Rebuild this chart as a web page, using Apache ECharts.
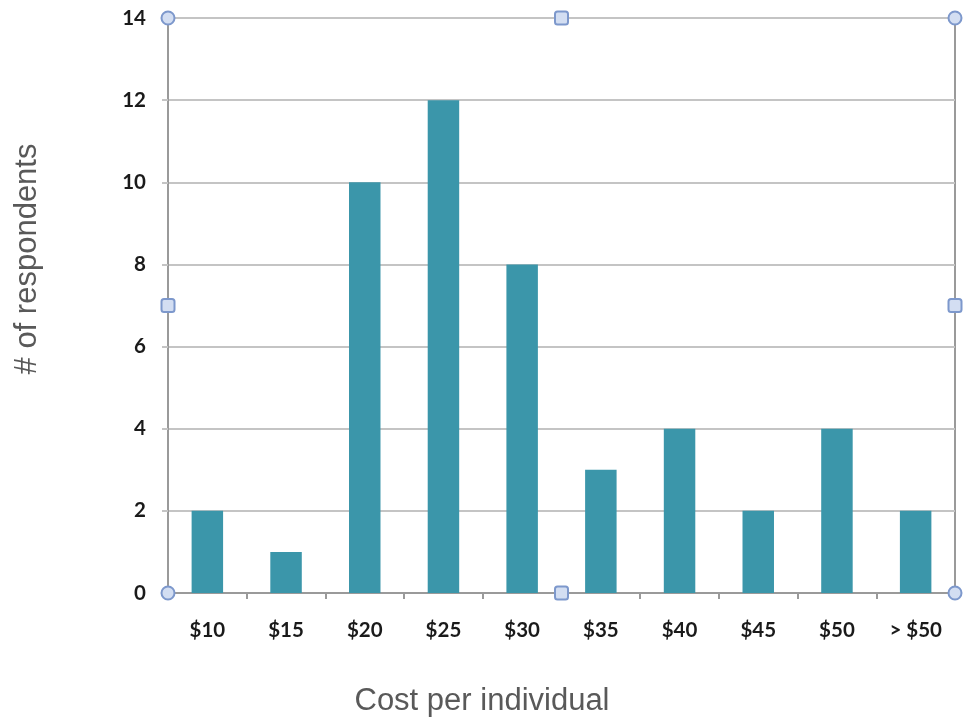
<!DOCTYPE html>
<html>
<head>
<meta charset="utf-8">
<script src="https://cdn.jsdelivr.net/npm/echarts@6/dist/echarts.min.js"></script>
<style>
  html, body { margin: 0; padding: 0; background: #ffffff; }
  #chart { width: 971px; height: 719px; }
</style>
</head>
<body>
<div id="chart"></div>
<script>
// Survey: how much respondents would pay per individual
const categories = ['$10', '$15', '$20', '$25', '$30', '$35', '$40', '$45', '$50', '> $50'];
const respondents = [2, 1, 10, 12, 8, 3, 4, 2, 4, 2];
const yTicks = [0, 2, 4, 6, 8, 10, 12, 14];

const xTitle = 'Cost per individual';
const yTitle = '# of respondents';

const chart = echarts.init(document.getElementById('chart'), null, { renderer: 'canvas' });

const labelFont = { fontFamily: 'Lato, "Open Sans", sans-serif', fontWeight: 'bold', fontSize: 20.5, color: '#1a1a1a' };
const titleFont = { fontFamily: '"Liberation Sans", Arial, sans-serif', fontSize: 31, fill: '#595959' };

chart.setOption({
  animation: false,
  backgroundColor: '#ffffff',
  grid: {
    left: 168, right: 16, top: 18, bottom: 126,
    show: true, borderColor: '#9a9a9a', borderWidth: 2, containLabel: false
  },
  xAxis: {
    type: 'category',
    data: categories,
    axisLine: { lineStyle: { color: '#9a9a9a', width: 2 } },
    axisTick: { show: true, alignWithLabel: false, length: 6, lineStyle: { color: '#9a9a9a', width: 2 } },
    axisLabel: Object.assign({ margin: 27, interval: 0 }, labelFont),
    splitLine: { show: false }
  },
  yAxis: {
    type: 'value',
    min: yTicks[0],
    max: yTicks[yTicks.length - 1],
    interval: yTicks[1] - yTicks[0],
    axisLine: { show: true, lineStyle: { color: '#9a9a9a', width: 2 } },
    axisTick: { show: true, length: 6, lineStyle: { color: '#c4c4c4', width: 2 } },
    axisLabel: Object.assign({ margin: 22 }, labelFont),
    splitLine: { show: true, lineStyle: { color: '#c4c4c4', width: 2 } }
  },
  series: [{
    type: 'bar',
    data: respondents,
    barWidth: '40%',
    itemStyle: { color: '#3b96aa' }
  }]
});

// Axis titles and the selection handles around the plot frame
const grid = chart.getModel().getComponent('grid').coordinateSystem.getRect();
const x0 = grid.x, x1 = grid.x + grid.width, y0 = grid.y, y1 = grid.y + grid.height;
const xm = (x0 + x1) / 2, ym = (y0 + y1) / 2;

function circleHandle(cx, cy) {
  return { type: 'circle', shape: { cx: cx, cy: cy, r: 6.5 }, z: 100,
    style: { fill: '#d3def2', stroke: '#7d98cc', lineWidth: 2 } };
}
function squareHandle(cx, cy) {
  return { type: 'rect', shape: { x: cx - 6.5, y: cy - 6.5, width: 13, height: 13, r: 2.5 }, z: 100,
    style: { fill: '#d3def2', stroke: '#7d98cc', lineWidth: 2 } };
}

chart.setOption({
  graphic: [
    { type: 'text', x: 482, y: 701, style: Object.assign({ text: xTitle, align: 'center', verticalAlign: 'middle' }, titleFont) },
    { type: 'text', x: 27, y: 259, rotation: Math.PI / 2,
      style: Object.assign({ text: yTitle, align: 'center', verticalAlign: 'middle' }, titleFont) },
    circleHandle(x0, y0), circleHandle(x1, y0), circleHandle(x0, y1), circleHandle(x1, y1),
    squareHandle(xm, y0), squareHandle(xm, y1), squareHandle(x0, ym), squareHandle(x1, ym)
  ]
});
</script>
</body>
</html>
